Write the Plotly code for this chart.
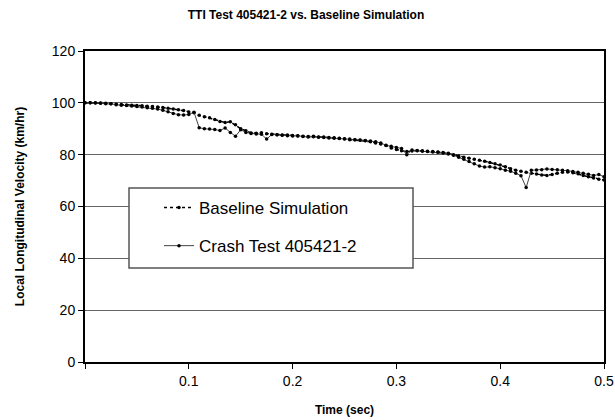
import plotly.graph_objects as go

time_sec = [round(i * 0.005, 3) for i in range(101)]

baseline_sim = [
    100.0, 100.0, 100.0, 99.9, 99.8, 99.6, 99.5, 99.4, 99.2, 99.1,
    99.0, 98.9, 98.7, 98.6, 98.4, 98.2, 97.9, 97.6, 97.3, 97.0,
    96.5, 96.2, 95.2, 94.6, 94.2, 93.6, 92.8, 92.4, 92.7, 91.5,
    90.0, 89.2, 88.4, 88.3, 88.5, 88.1, 87.9, 87.7, 87.6, 87.6,
    87.4, 87.2, 87.0, 87.0, 87.1, 86.8, 86.8, 86.6, 86.5, 86.3,
    86.1, 86.0, 85.8, 85.6, 85.4, 85.0, 84.5, 84.1, 83.5, 82.6,
    82.0, 81.5, 81.2, 81.4, 81.6, 81.5, 81.3, 81.2, 81.0, 80.8,
    80.5, 80.0, 79.5, 79.0, 78.6, 78.2, 77.8, 77.5, 77.0, 76.5,
    76.0, 75.3, 74.6, 74.0, 73.6, 73.2, 72.8, 72.5, 72.2, 72.0,
    72.3, 72.8, 73.2, 73.3, 73.0, 72.6, 72.0, 71.5, 71.0, 70.5,
    70.2,
]

crash_test = [
    100.0, 100.0, 99.9, 99.8, 99.6, 99.6, 99.3, 99.1, 99.0, 98.8,
    98.6, 98.4, 98.1, 97.9, 97.6, 97.1, 96.6, 95.9, 95.4, 95.3,
    95.5, 96.4, 90.4, 90.0, 89.9, 89.7, 89.3, 90.3, 88.6, 87.1,
    89.6, 88.6, 88.2, 88.0, 87.9, 86.0, 87.8, 87.7, 87.5, 87.3,
    87.2, 87.3, 87.1, 86.8, 86.9, 86.7, 86.6, 86.4, 86.3, 86.2,
    86.0, 85.8, 85.8, 85.7, 85.5, 85.3, 85.0, 84.5, 83.6, 83.2,
    82.8, 82.4, 80.0, 81.8, 81.5, 81.3, 81.2, 81.0, 80.9, 80.6,
    80.3, 79.8, 79.0, 78.2, 77.4, 76.5, 75.6, 75.2, 75.3, 75.0,
    74.6, 74.0, 73.6, 72.8, 71.9, 67.3, 74.0, 74.1, 74.2, 74.5,
    74.3, 74.2, 74.0, 73.8, 73.5, 73.2, 72.8, 72.4, 72.0, 72.3,
    71.5,
]

x_tick_vals = [0, 0.1, 0.2, 0.3, 0.4, 0.5]
x_tick_text = ["", "0.1", "0.2", "0.3", "0.4", "0.5"]
y_tick_vals = [0, 20, 40, 60, 80, 100, 120]

FONT = "Liberation Sans, Arial, Helvetica, sans-serif"

fig = go.Figure()
fig.add_trace(go.Scatter(
    x=time_sec, y=baseline_sim, name="Baseline Simulation",
    mode="lines+markers", legendgroup="a",
    line=dict(color="black", width=1.5, dash="dot"),
    marker=dict(color="black", size=3.5),
))
fig.add_trace(go.Scatter(
    x=time_sec, y=crash_test, name="Crash Test 405421-2",
    mode="lines+markers", legendgroup="b",
    line=dict(color="#444444", width=1),
    marker=dict(color="black", size=3.5),
))

W0, W1, H0, H1 = 85, 604, 51, 362
pw, ph = W1 - W0, H1 - H0

def px(xp):
    return (xp - W0) / pw

def py(yp):
    return (H1 - yp) / ph

fig.add_shape(type="rect", xref="paper", yref="paper",
              x0=px(129), x1=px(413), y0=py(268), y1=py(188),
              line=dict(color="#555555", width=1.5), fillcolor="white",
              layer="above")

fig.update_layout(
    width=615, height=420,
    margin=dict(l=W0, r=615 - W1, t=H0, b=420 - H1, autoexpand=False),
    plot_bgcolor="white", paper_bgcolor="white",
    font=dict(family=FONT, color="black", size=14),
    title=dict(text="<b>TTI Test 405421-2 vs. Baseline Simulation</b>",
               x=(306) / 615, xanchor="center", y=1 - 15 / 420, yanchor="middle",
               font=dict(size=12)),
    showlegend=True,
    legend=dict(x=px(159), y=py(190), xanchor="left", yanchor="top",
                bgcolor="rgba(0,0,0,0)", borderwidth=0,
                font=dict(size=17, family=FONT), tracegroupgap=13),
    xaxis=dict(range=[0, 0.5], tickvals=x_tick_vals, ticktext=x_tick_text,
               showgrid=False, zeroline=False, showline=True, linecolor="black",
               linewidth=2, mirror=True, ticks="outside", ticklen=5,
               tickcolor="black", tickwidth=1, automargin=False,
               title=dict(text="<b>Time (sec)</b>", font=dict(size=12), standoff=18)),
    yaxis=dict(range=[0, 120], tickvals=y_tick_vals,
               showgrid=True, gridcolor="#666666", gridwidth=1,
               zeroline=False, showline=True, linecolor="black",
               linewidth=2, mirror=True, ticks="outside", ticklen=5,
               tickcolor="black", tickwidth=1, automargin=False,
               title=dict(text="<b>Local Longitudinal Velocity (km/hr)</b>",
                          font=dict(size=12), standoff=25)),
)

fig.write_html(
    "out.html",
    config={"displayModeBar": False},
    post_script="document.body.style.margin='0';document.body.style.padding='0';",
)
